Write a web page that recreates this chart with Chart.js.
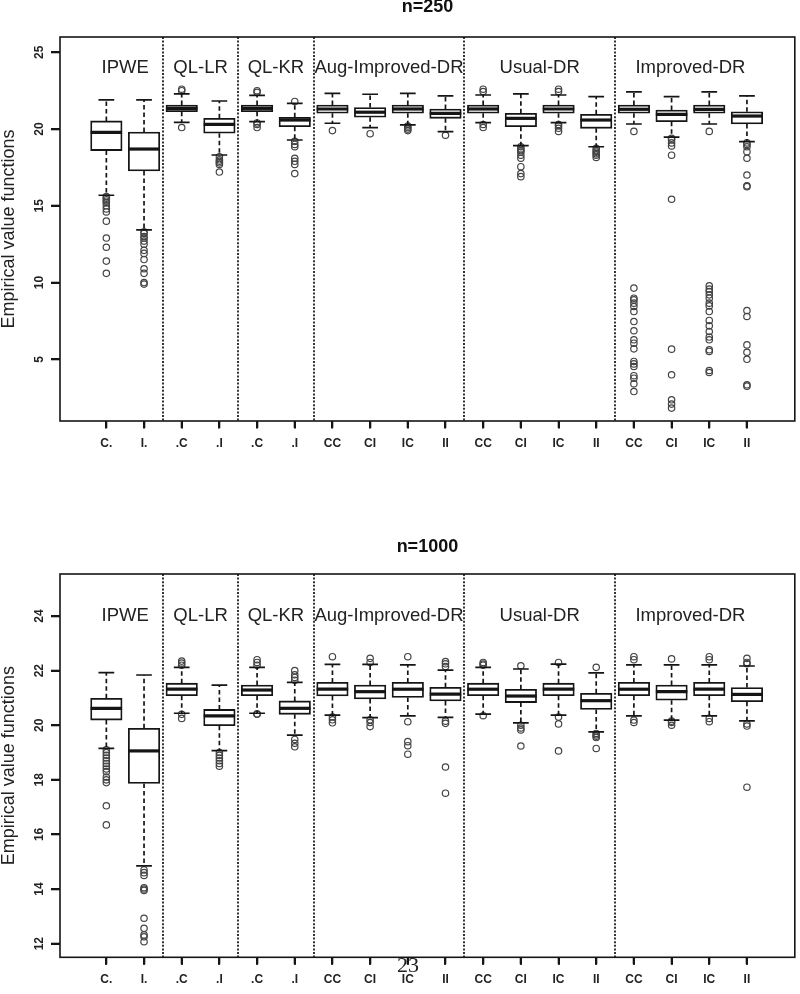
<!DOCTYPE html>
<html>
<head>
<meta charset="utf-8">
<script src="https://cdn.jsdelivr.net/npm/chart.js@4"></script>
<style>
html,body{margin:0;padding:0;background:#fff;}
#wrap{position:relative;width:800px;height:994px;overflow:hidden;background:#fff;}
#c1{position:absolute;left:0;top:0;}
#c2{position:absolute;left:0;top:530px;}
#pg{position:absolute;left:397px;top:953px;font-family:"Liberation Serif","Times New Roman",serif;font-size:22px;color:#222;line-height:24px;}
</style>
</head>
<body>
<div id="wrap">
<canvas id="c1" width="800" height="470"></canvas>
<canvas id="c2" width="800" height="464"></canvas>
<div id="pg">23</div>
</div>
<script>
// ---------- data ----------
const categories = ['C.','I.','.C','.I','.C','.I','CC','CI','IC','II','CC','CI','IC','II','CC','CI','IC','II'];
const groupNames = ['IPWE','QL-LR','QL-KR','Aug-Improved-DR','Usual-DR','Improved-DR'];
const groupSizes = [2,2,2,4,4,4];
const panelTitles = ['n=250','n=1000'];
const yAxisTitle = 'Empirical value functions';
const yTicks250 = [5,10,15,20,25];
const yTicks1000 = [12,14,16,18,20,22,24];

// n = 250
const whiskerLow250  = [15.69,13.43,20.44,18.31,20.48,19.29,20.38,20.09,20.27,19.83,20.42,18.92,20.42,18.85,20.33,19.47,20.33,19.18];
const q1_250         = [18.60,17.27,21.13,19.73,21.13,20.16,21.03,20.77,21.03,20.70,21.03,20.16,21.03,20.05,21.03,20.48,21.03,20.33];
const median250      = [19.79,18.70,21.35,20.31,21.35,20.59,21.31,21.10,21.31,21.03,21.31,20.70,21.31,20.59,21.29,20.96,21.29,20.85];
const q3_250         = [20.53,19.81,21.57,20.70,21.57,20.77,21.57,21.40,21.57,21.31,21.57,21.03,21.57,20.96,21.57,21.24,21.57,21.13];
const whiskerHigh250 = [21.90,21.90,22.29,21.83,22.20,21.68,22.33,22.27,22.33,22.17,22.22,22.29,22.22,22.11,22.43,22.11,22.43,22.17];
const outliers250 = [
  [15.6,15.5,15.4,15.3,15.2,15.0,14.8,14.6,14.0,12.9,12.3,11.4,10.6],
  [13.3,13.2,13.0,12.9,12.7,12.5,12.1,11.9,11.5,10.9,10.6,10.0,9.9],
  [22.6,22.5,20.1],
  [18.2,18.0,17.9,17.8,17.7,17.2],
  [22.5,22.4,20.4,20.3,20.1],
  [21.8,19.2,19.0,18.85,18.1,17.9,17.7,17.1],
  [19.9],
  [19.7],
  [20.2,20.1,20.0,19.9],
  [19.6],
  [22.6,22.45,20.3,20.1],
  [18.85,18.7,18.6,18.5,18.3,18.1,17.55,17.1,16.9],
  [22.6,22.45,20.3,20.2,20.05,19.85],
  [18.75,18.6,18.5,18.4,18.3,18.15],
  [19.85,9.64,8.98,8.87,8.66,8.44,8.11,7.46,6.86,6.27,6.05,5.68,4.86,4.7,4.53,3.93,3.77,3.4,2.9],
  [19.4,19.3,19.1,18.9,18.3,15.43,5.66,3.99,2.36,2.08,1.82],
  [19.85,9.79,9.57,9.41,9.2,8.98,8.66,8.48,8.11,7.53,7.18,6.81,6.45,6.27,5.62,5.51,4.27,4.14],
  [19.1,19.0,18.85,18.53,18.1,17.01,16.3,16.25,8.18,7.79,5.94,5.46,5.0,3.34,3.25]
];

// n = 1000
const whiskerLow1000  = [19.15,14.85,20.44,19.07,20.44,19.64,20.37,20.28,20.34,20.29,20.41,20.09,20.37,19.76,20.34,20.19,20.34,20.16];
const q1_1000         = [20.19,17.87,21.08,19.98,21.08,20.40,21.07,20.96,21.02,20.89,21.08,20.83,21.08,20.58,21.08,20.92,21.08,20.86];
const median1000      = [20.62,19.06,21.32,20.34,21.29,20.62,21.32,21.23,21.32,21.14,21.32,21.07,21.32,20.90,21.32,21.23,21.32,21.13];
const q3_1000         = [20.99,19.89,21.54,20.58,21.47,20.89,21.57,21.47,21.57,21.39,21.54,21.32,21.54,21.17,21.57,21.47,21.57,21.38];
const whiskerHigh1000 = [21.93,21.84,22.12,21.47,22.12,21.57,22.23,22.23,22.21,22.02,22.12,22.06,22.24,21.92,22.21,22.21,22.21,22.17];
const outliers1000 = [
  [19.1,19.0,18.9,18.8,18.7,18.6,18.5,18.4,18.3,18.1,18.0,17.9,17.05,16.35],
  [14.7,14.6,14.5,14.05,14.0,13.95,12.93,12.56,12.32,12.25,12.07],
  [22.35,22.28,22.2,20.4,20.25],
  [19.0,18.9,18.8,18.7,18.6,18.5],
  [22.4,22.3,22.2,20.42,20.4],
  [22.0,21.85,21.75,21.65,19.48,19.34,19.21],
  [22.51,20.3,20.2,20.09],
  [22.45,22.3,20.2,20.1,19.95],
  [22.51,20.13,19.4,19.25,18.94],
  [22.33,22.25,22.15,20.15,20.07,18.47,17.51],
  [22.3,22.24,22.2,20.35],
  [22.18,20.0,19.9,19.83,19.24],
  [22.3,20.3,20.05,19.06],
  [22.12,19.7,19.65,19.6,19.55,19.15],
  [22.51,22.4,20.19,20.1],
  [22.43,20.15,20.1,20.0],
  [22.51,22.4,20.25,20.13],
  [22.45,22.3,22.25,20.05,19.97,17.73]
];

// ---------- drawing ----------
const FONT = '"Liberation Sans", Arial, Helvetica, sans-serif';
const INK = '#151515';

const boxPlugin = {
  id: 'boxExtras',
  beforeDatasetsDraw(chart, args, opts) {
    const {ctx, chartArea: a, scales: {x}} = chart;
    ctx.save();
    ctx.strokeStyle = '#111';
    ctx.lineWidth = 1.7;
    ctx.setLineDash([2, 1.6]);
    let start = 0;
    groupSizes.forEach((n, gi) => {
      start += n;
      if (gi < groupSizes.length - 1) {
        const px = Math.round(x.getPixelForValue(start + 0.5));
        ctx.beginPath(); ctx.moveTo(px, a.top); ctx.lineTo(px, a.bottom); ctx.stroke();
      }
    });
    ctx.restore();
  },
  afterDatasetsDraw(chart, args, opts) {
    const {ctx, chartArea: a, scales: {x, y}} = chart;
    const s = opts.stats;
    const meta = chart.getDatasetMeta(0);
    ctx.save();
    ctx.strokeStyle = INK;
    for (let i = 0; i < categories.length; i++) {
      const px = x.getPixelForValue(i + 1);
      const bar = meta.data[i];
      const half = bar.width / 2;
      const cap = half / 2;
      ctx.lineWidth = 1.7;
      ctx.setLineDash([4.5, 3]);
      ctx.beginPath();
      ctx.moveTo(px, y.getPixelForValue(s.q3[i])); ctx.lineTo(px, y.getPixelForValue(s.hi[i]));
      ctx.moveTo(px, y.getPixelForValue(s.q1[i])); ctx.lineTo(px, y.getPixelForValue(s.lo[i]));
      ctx.stroke();
      ctx.setLineDash([]);
      ctx.beginPath();
      ctx.moveTo(px - cap, y.getPixelForValue(s.hi[i])); ctx.lineTo(px + cap, y.getPixelForValue(s.hi[i]));
      ctx.moveTo(px - cap, y.getPixelForValue(s.lo[i])); ctx.lineTo(px + cap, y.getPixelForValue(s.lo[i]));
      ctx.stroke();
      ctx.lineWidth = 3.2;
      ctx.beginPath();
      ctx.moveTo(px - half, y.getPixelForValue(s.med[i])); ctx.lineTo(px + half, y.getPixelForValue(s.med[i]));
      ctx.stroke();
    }
    ctx.fillStyle = '#222';
    ctx.font = '18.5px ' + FONT;
    ctx.textAlign = 'center';
    ctx.textBaseline = 'middle';
    let start = 0;
    groupSizes.forEach((n, gi) => {
      const c = start + (n + 1) / 2;
      ctx.fillText(groupNames[gi], x.getPixelForValue(c), y.getPixelForValue(opts.labelY));
      start += n;
    });
    ctx.lineWidth = 1.6;
    ctx.strokeRect(a.left, a.top, a.right - a.left, a.bottom - a.top);
    ctx.font = 'bold 18px ' + FONT;
    ctx.fillStyle = '#111';
    ctx.fillText(opts.title, (a.left + a.right) / 2, a.top - opts.titleGap);
    ctx.restore();
  },
  afterDraw(chart) {
    // axis tick marks at the scales' own tick values
    const {ctx, chartArea: a, scales: {x, y}} = chart;
    ctx.save();
    ctx.fillStyle = '#151515';
    for (const t of x.ticks) {
      const px = Math.round(x.getPixelForValue(t.value));
      ctx.fillRect(px - 1, a.bottom, 2, 7.5);
    }
    for (const t of y.ticks) {
      const py = Math.round(y.getPixelForValue(t.value));
      ctx.fillRect(a.left - 9, py - 1, 9, 2);
    }
    ctx.restore();
  }
};

function makeChart(id, cfg) {
  const boxes = categories.map((c, i) => ({x: i + 1, y: [cfg.q1[i], cfg.q3[i]]}));
  const pts = [];
  cfg.out.forEach((arr, i) => arr.forEach(v => pts.push({x: i + 1, y: v})));
  return new Chart(document.getElementById(id), {
    type: 'bar',
    data: {
      datasets: [
        {type: 'bar', data: boxes, backgroundColor: '#ffffff', borderColor: INK, borderWidth: 1.8,
         borderSkipped: false, barThickness: 31.5, order: 2},
        {type: 'scatter', data: pts, pointStyle: 'circle', pointRadius: 3.2, pointBorderWidth: 1.2,
         pointBorderColor: '#444', pointBackgroundColor: 'rgba(0,0,0,0)', showLine: false, order: 1}
      ]
    },
    options: {
      responsive: false,
      animation: false,
      layout: {padding: {top: cfg.padTop, right: 1, left: 0, bottom: 0}},
      plugins: {
        legend: {display: false},
        tooltip: {enabled: false},
        boxExtras: {stats: {lo: cfg.lo, q1: cfg.q1, med: cfg.med, q3: cfg.q3, hi: cfg.hi},
                    labelY: cfg.labelY, title: cfg.title, titleGap: cfg.titleGap}
      },
      scales: {
        x: {
          type: 'linear', min: -0.23, max: 19.27, offset: false,
          afterBuildTicks: sc => { sc.ticks = categories.map((c, i) => ({value: i + 1})); },
          afterFit: sc => { sc.height = cfg.xHeight; },
          grid: {offset: false, drawOnChartArea: false, drawTicks: true, tickLength: 7, tickWidth: 1.6, tickColor: INK},
          border: {display: false},
          ticks: {autoSkip: false, maxRotation: 0, minRotation: 0, padding: 8, color: '#222',
                  font: {family: FONT, size: 12, weight: 'bold'},
                  callback: v => categories[v - 1]}
        },
        y: {
          type: 'linear', min: cfg.yMin, max: cfg.yMax,
          afterBuildTicks: sc => { sc.ticks = cfg.yTicks.map(v => ({value: v})); },
          afterFit: sc => { sc.width = 60; },
          grid: {offset: false, drawOnChartArea: false, drawTicks: true, tickLength: 9, tickWidth: 1.6, tickColor: INK},
          border: {display: false},
          title: {display: true, text: yAxisTitle, color: '#222', padding: {top: 0, bottom: 0},
                  font: {family: FONT, size: 18, lineHeight: 1}},
          ticks: {autoSkip: false, minRotation: 90, maxRotation: 90, crossAlign: 'center', padding: 5,
                  color: '#222', font: {family: FONT, size: 12, weight: 'bold'}}
        }
      }
    },
    plugins: [boxPlugin]
  });
}

makeChart('c1', {
  lo: whiskerLow250, q1: q1_250, med: median250, q3: q3_250, hi: whiskerHigh250, out: outliers250,
  yMin: 0.98, yMax: 26.0, yTicks: yTicks250, labelY: 24, title: panelTitles[0],
  padTop: 37, xHeight: 49, titleGap: 30
});
makeChart('c2', {
  lo: whiskerLow1000, q1: q1_1000, med: median1000, q3: q3_1000, hi: whiskerHigh1000, out: outliers1000,
  yMin: 11.5, yMax: 25.54, yTicks: yTicks1000, labelY: 24, title: panelTitles[1],
  padTop: 44, xHeight: 36.7, titleGap: 27
});
</script>
</body>
</html>
